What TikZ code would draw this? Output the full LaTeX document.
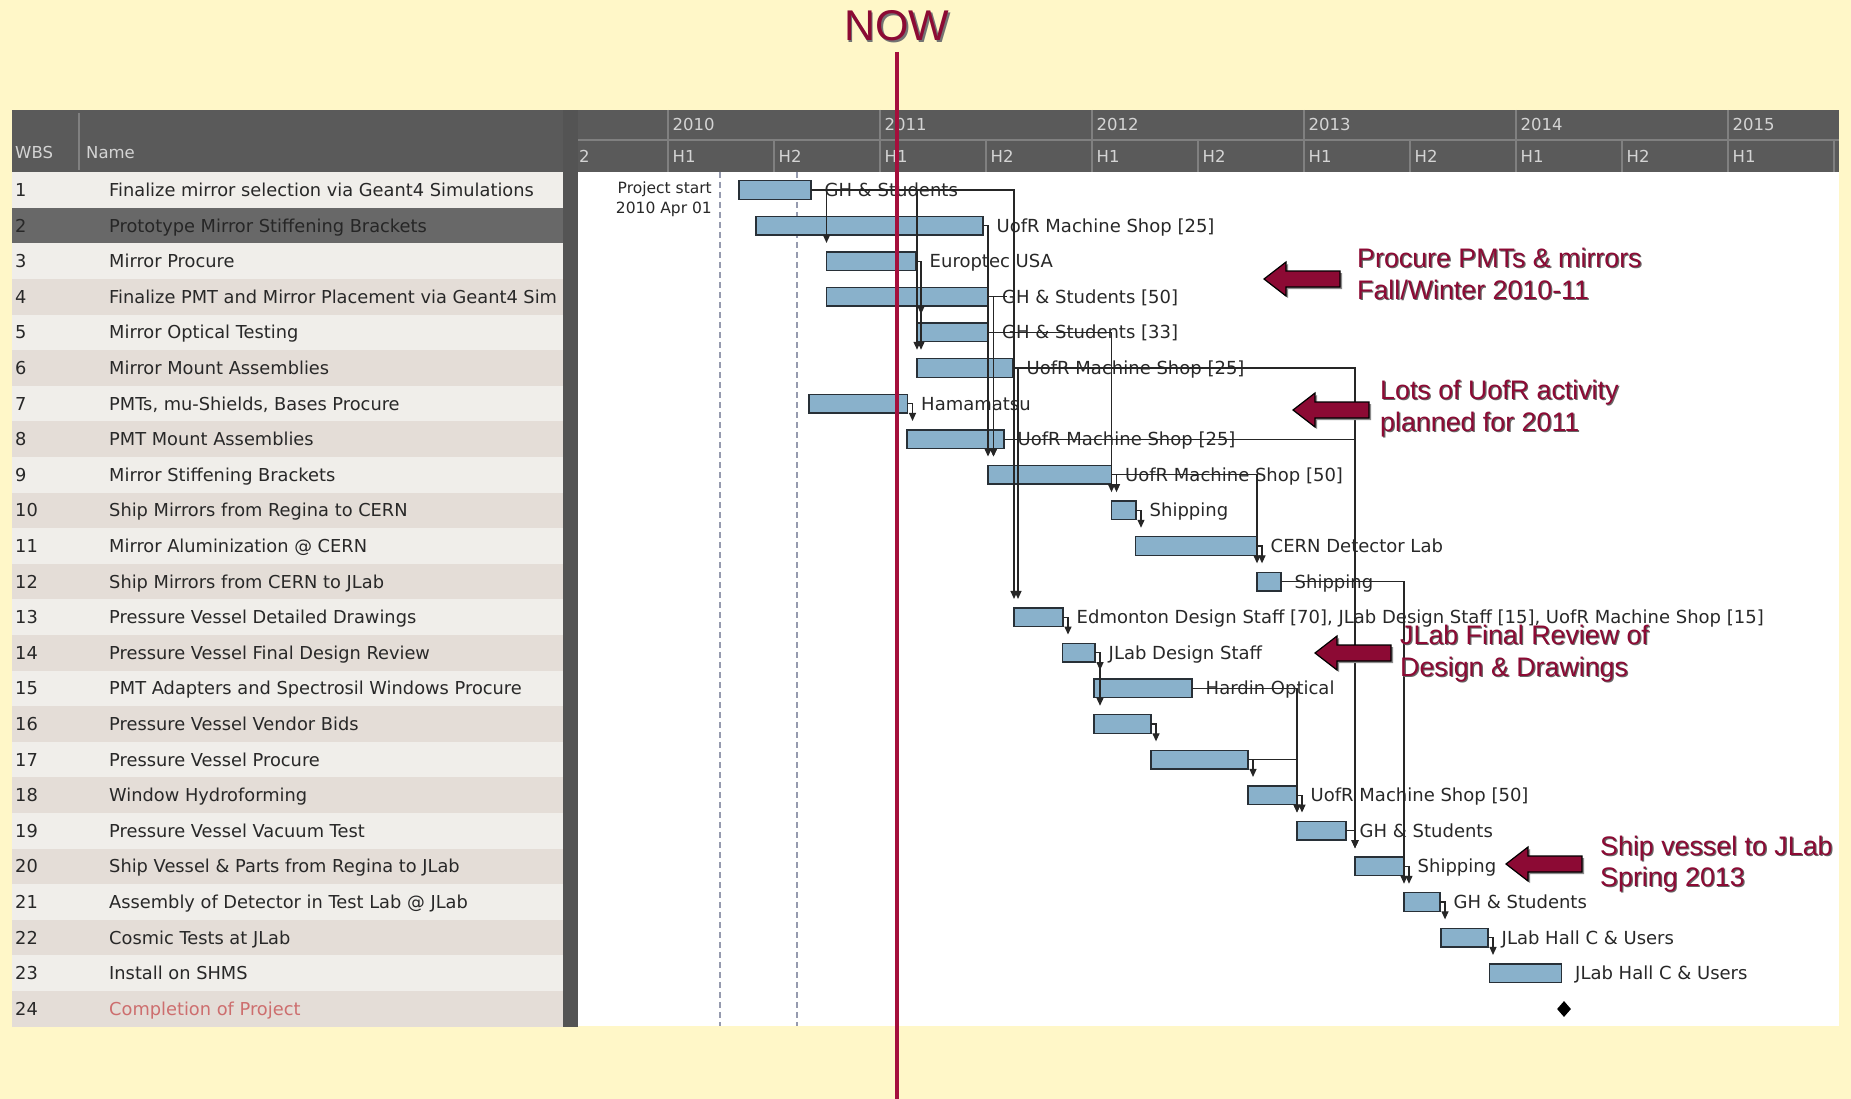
\documentclass[tikz,border=0pt]{standalone}
\usepackage{fontspec}
\newfontfamily\guifont{DejaVu Sans}
\newfontfamily\annfont{Liberation Sans}
\usetikzlibrary{calc,arrows.meta,shapes.geometric}
\definecolor{bgy}{RGB}{255,247,200}
\definecolor{hdrcol}{RGB}{90,90,90}
\definecolor{hdrline}{RGB}{128,128,128}
\definecolor{hdrtxt}{RGB}{212,212,212}
\definecolor{rowa}{RGB}{240,238,234}
\definecolor{rowb}{RGB}{228,221,215}
\definecolor{rowsel}{RGB}{104,104,104}
\definecolor{splitcol}{RGB}{84,84,84}
\definecolor{barfill}{RGB}{137,177,203}
\definecolor{barline}{RGB}{40,48,55}
\definecolor{txt}{RGB}{40,40,40}
\definecolor{seltxt}{RGB}{38,38,38}
\definecolor{donecol}{RGB}{205,110,110}
\definecolor{annred}{RGB}{140,10,52}
\definecolor{nowred}{RGB}{165,15,60}
\definecolor{dashgray}{RGB}{150,155,175}

\newcommand\ganttbar[3]{\node[bar, minimum width={#3-#2}] (b#1) at (#2,{190+(#1-1)*35.6}) {};}
\newcommand\ganttlab[2]{\node[lab] (l#1) at ($(b#1.east)+(13.5,6.5)$) {#2};}
\newcommand\depto[2]{\draw[dep] (b#1.east) -| ([yshift=9pt]b#2.north west);}
\newcommand\depstub[2]{\draw[dep] (b#1.east) -- ++(5,0) coordinate (s#1x#2) -- ([yshift=9pt]s#1x#2 |- b#2.north);}
\newcommand\anntextline[4]{%
  \node[anntxt, text=black!60] (#1s) at (#2+1.2,#3+1.2) {#4};
  \node[anntxt] (#1) at (#2,#3) {#4};}
\newcommand\annarrow[2]{%
  \fill[black!45] (#1+2,#2+2) -- ++(22,-17) -- ++(0,9) -- ++(54,0) -- ++(0,16) -- ++(-54,0) -- ++(0,9) -- cycle;
  \filldraw[annarr] (#1,#2) -- ++(22,-17) -- ++(0,9) -- ++(54,0) -- ++(0,16) -- ++(-54,0) -- ++(0,9) -- cycle;}

\begin{document}
\begin{tikzpicture}[x=1pt,y=-1pt,
  bar/.style={draw=barline, fill=barfill, line width=1.4pt, minimum height=18.5pt, inner sep=0pt, outer sep=0pt, anchor=west},
  lab/.style={font=\guifont\fontsize{18}{20}\selectfont, text=txt, inner sep=0pt, anchor=base west},
  rowtxt/.style={font=\guifont\fontsize{17.8}{20}\selectfont, inner sep=0pt, anchor=base west},
  hdrtext/.style={font=\guifont\fontsize{16.5}{18}\selectfont, text=hdrtxt, inner sep=0pt, anchor=base west},
  smalltxt/.style={font=\guifont\fontsize{15.5}{17}\selectfont, text=txt, inner sep=0pt, anchor=base east},
  dep/.style={draw=black!85, line width=1.2pt, -{Triangle[width=7pt,length=8pt]}},
  conn/.style={draw=black!85, line width=1.2pt},
  dashln/.style={draw=dashgray, line width=1.1pt, dash pattern=on 6pt off 4pt},
  anntxt/.style={font=\annfont\fontsize{26.8}{28}\selectfont, text=annred, inner sep=0pt, anchor=base west},
  annarr/.style={fill=annred, draw=black, line width=1.2pt, line join=miter},
]
\useasboundingbox (0,0) rectangle (1851,1099);
\fill[fill=bgy] (0,0) rectangle (1851,1099);

% ---------- left table ----------
\fill[fill=hdrcol] (12,110) rectangle (563,172);
\draw[draw=hdrline, line width=1.5pt] (79,113) -- (79,170);
\node[hdrtext] (hwbs) at (15,159) {WBS};
\node[hdrtext] (hname) at (86,159) {Name};
\begin{scope}
\clip (12,172) rectangle (563,1027);
\foreach \ri/\rc/\rk/\rn in {%
1/rowa/txt/Finalize mirror selection via Geant4 Simulations,%
2/rowsel/seltxt/Prototype Mirror Stiffening Brackets,%
3/rowa/txt/Mirror Procure,%
4/rowb/txt/Finalize PMT and Mirror Placement via Geant4 Sim,%
5/rowa/txt/Mirror Optical Testing,%
6/rowb/txt/Mirror Mount Assemblies,%
7/rowa/txt/{PMTs, mu-Shields, Bases Procure},%
8/rowb/txt/PMT Mount Assemblies,%
9/rowa/txt/Mirror Stiffening Brackets,%
10/rowb/txt/Ship Mirrors from Regina to CERN,%
11/rowa/txt/Mirror Aluminization @ CERN,%
12/rowb/txt/Ship Mirrors from CERN to JLab,%
13/rowa/txt/Pressure Vessel Detailed Drawings,%
14/rowb/txt/Pressure Vessel Final Design Review,%
15/rowa/txt/PMT Adapters and Spectrosil Windows Procure,%
16/rowb/txt/Pressure Vessel Vendor Bids,%
17/rowa/txt/Pressure Vessel Procure,%
18/rowb/txt/Window Hydroforming,%
19/rowa/txt/Pressure Vessel Vacuum Test,%
20/rowb/txt/Ship Vessel \& Parts from Regina to JLab,%
21/rowa/txt/Assembly of Detector in Test Lab @ JLab,%
22/rowb/txt/Cosmic Tests at JLab,%
23/rowa/txt/Install on SHMS,%
24/rowb/donecol/Completion of Project}
{
  \fill[fill=\rc] (12,{172.2+(\ri-1)*35.6}) rectangle (563,{172.2+\ri*35.6});
  \node[rowtxt, text=txt] (w\ri) at (15,{196.5+(\ri-1)*35.6}) {\ri};
  \node[rowtxt, text=\rk] (n\ri) at (109,{196.5+(\ri-1)*35.6}) {\rn};
}
\end{scope}

% ---------- splitter ----------
\fill[fill=splitcol] (563,110) rectangle (578,1027);

% ---------- chart header ----------
\fill[fill=hdrcol] (578,110) rectangle (1839,172);
\fill[fill=white] (578,172) rectangle (1839,1026);
\begin{scope}
\clip (578,110) rectangle (1839,172);
\draw[draw=hdrline, line width=1.2pt] (578,140) -- (1839,140);
\foreach \hk in {0,...,12} {
  \draw[draw=hdrline, line width=1.2pt] ({562+106*\hk},140) -- ({562+106*\hk},172);
  \pgfmathtruncatemacro\hh{2-mod(\hk,2)}
  \node[hdrtext] (hl\hk) at ({566.5+106*\hk},163) {H\hh};
}
\foreach \yk in {0,...,6} {
  \draw[draw=hdrline, line width=1.2pt] ({456+212*\yk},110) -- ({456+212*\yk},172);
  \pgfmathtruncatemacro\yy{2009+\yk}
  \node[hdrtext] (yr\yk) at ({460.5+212*\yk},131) {\yy};
}
\end{scope}

% ---------- dashed markers ----------
\coordinate (d1t) at (720,172); \coordinate (d1b) at (720,1026);
\coordinate (d2t) at (797,172); \coordinate (d2b) at (797,1026);
\draw[dashln] (d1t) -- (d1b);
\draw[dashln] (d2t) -- (d2b);
\node[smalltxt] (ps1) at (712,193.5) {Project start};
\node[smalltxt] (ps2) at (712,214) {2010 Apr 01};

% ---------- bars ----------
\ganttbar{1}{739}{811}
\ganttbar{2}{756}{983}
\ganttbar{3}{826.5}{916}
\ganttbar{4}{826.5}{988.5}
\ganttbar{5}{917}{988.5}
\ganttbar{6}{917}{1013}
\ganttbar{7}{809}{907.5}
\ganttbar{8}{907}{1004}
\ganttbar{9}{988}{1111.5}
\ganttbar{10}{1111.5}{1136}
\ganttbar{11}{1135.5}{1257}
\ganttbar{12}{1257}{1281}
\ganttbar{13}{1014}{1063}
\ganttbar{14}{1062.5}{1095}
\ganttbar{15}{1094}{1192}
\ganttbar{16}{1094}{1151}
\ganttbar{17}{1151}{1248}
\ganttbar{18}{1248}{1297}
\ganttbar{19}{1297}{1346}
\ganttbar{20}{1355}{1404}
\ganttbar{21}{1404}{1440}
\ganttbar{22}{1441}{1488}
\ganttbar{23}{1489.5}{1561.5}
\node[diamond, fill=black, minimum width=14pt, minimum height=16pt, inner sep=0pt] (m24) at (1564,1009) {};

% ---------- labels ----------
\ganttlab{1}{GH \& Students}
\ganttlab{2}{UofR Machine Shop [25]}
\ganttlab{3}{Europtec USA}
\ganttlab{4}{GH \& Students [50]}
\ganttlab{5}{GH \& Students [33]}
\ganttlab{6}{UofR Machine Shop [25]}
\ganttlab{7}{Hamamatsu}
\ganttlab{8}{UofR Machine Shop [25]}
\ganttlab{9}{UofR Machine Shop [50]}
\ganttlab{10}{Shipping}
\ganttlab{11}{CERN Detector Lab}
\ganttlab{12}{Shipping}
\ganttlab{13}{Edmonton Design Staff [70], JLab Design Staff [15], UofR Machine Shop [15]}
\ganttlab{14}{JLab Design Staff}
\ganttlab{15}{Hardin Optical}
\ganttlab{18}{UofR Machine Shop [50]}
\ganttlab{19}{GH \& Students}
\ganttlab{20}{Shipping}
\ganttlab{21}{GH \& Students}
\ganttlab{22}{JLab Hall C \& Users}
\ganttlab{23}{JLab Hall C \& Users}

% ---------- dependencies ----------
\depto{1}{3}
\depto{1}{6}
\depto{1}{13}
\depto{2}{9}
\depstub{3}{5}
\depstub{3}{6}
\draw[conn] (b4.east) -- ++(18,0);
\depstub{4}{9}
\depstub{5}{9}
\depto{5}{10}
\depstub{6}{13}
\depto{6}{20}
\depstub{7}{8}
\depto{8}{20}
\depstub{9}{10}
\depto{9}{12}
\depstub{10}{11}
\depstub{11}{12}
\depto{12}{21}
\depstub{13}{14}
\depstub{14}{15}
\depstub{14}{16}
\depto{15}{19}
\depstub{16}{17}
\depstub{17}{18}
\depto{17}{19}
\depstub{18}{19}
\depto{19}{20}
\depstub{20}{21}
\depstub{21}{22}
\depstub{22}{23}

% ---------- annotations ----------
\annarrow{1264}{279}
\annarrow{1293}{410}
\annarrow{1315}{653}
\annarrow{1506}{864}
\anntextline{a1}{1357}{267.8}{Procure PMTs \& mirrors}
\anntextline{a2}{1357}{299.3}{Fall/Winter 2010-11}
\anntextline{a3}{1380}{399.3}{Lots of UofR activity}
\anntextline{a4}{1380}{431.3}{planned for 2011}
\anntextline{a5}{1400}{644.3}{JLab Final Review of}
\anntextline{a6}{1400}{676.3}{Design \& Drawings}
\anntextline{a7}{1600}{855.3}{Ship vessel to JLab}
\anntextline{a8}{1600}{886.3}{Spring 2013}

% ---------- NOW marker ----------
\coordinate (nowtop) at (897,52);
\coordinate (nowbot) at (897,1099);
\draw[draw=nowred, line width=4.5pt] (nowtop) -- (nowbot);
\node[font=\annfont\fontsize{43}{45}\selectfont, text=black!55, inner sep=0pt] (nows) at (898.5,27.5) {NOW};
\node[font=\annfont\fontsize{43}{45}\selectfont, text=annred, inner sep=0pt] (now) at (897,26) {NOW};
\end{tikzpicture}
\end{document}
